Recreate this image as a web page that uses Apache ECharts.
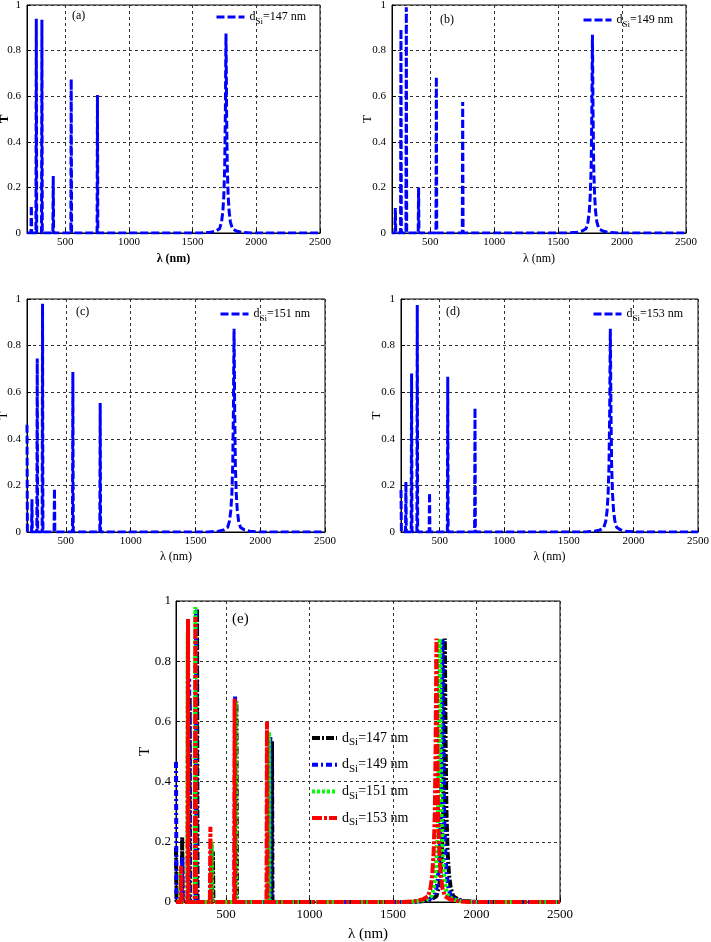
<!DOCTYPE html>
<html><head><meta charset="utf-8">
<script src="https://cdn.jsdelivr.net/npm/echarts@6/dist/echarts.min.js"></script>
<style>html,body{margin:0;padding:0;background:#fff}#c{width:711px;height:942px}</style>
</head><body><div id="c"></div>
<script>
// x tick labels (nm) and y range
const xTicks = [500, 1000, 1500, 2000, 2500];
const yTicks = [0, 0.2, 0.4, 0.6, 0.8, 1];

// Panel (a): d_Si = 147 nm  [lambda (nm), T]
const T_a147 = [[200,0],[231,0],[234,0.12],[237,0],[270,0],[273,0.94],[276,0],[314,0],[317,0.935],[320,0],
 [403,0],[406,0.25],[409,0],[544,0],[547,0.675],[550,0],[750,0],[753,0.605],[756,0],
 [1562,0],[1642,0.003],[1682,0.009],[1712,0.019],[1727,0.048],[1737,0.092],[1745,0.164],[1752,0.291],[1757,0.516],[1760,0.745],[1762,0.875],
 [1764,0.745],[1767,0.516],[1772,0.291],[1779,0.164],[1787,0.092],[1797,0.048],[1812,0.019],[1842,0.009],[1882,0.003],[1962,0],[2500,0]];
// Panel (b): d_Si = 149 nm
const T_b149 = [[200,0],[223,0],[226,0.11],[229,0],[267,0],[270,0.895],[273,0],[309,0],[312,0.99],[315,0],
 [405,0],[408,0.2],[411,0],[544,0],[547,0.685],[550,0],[750,0],[753,0.575],[756,0],
 [1568,0],[1648,0.003],[1688,0.009],[1718,0.019],[1733,0.048],[1743,0.092],[1751,0.164],[1758,0.29],[1763,0.513],[1766,0.74],[1768,0.87],
 [1770,0.74],[1773,0.513],[1778,0.29],[1785,0.164],[1793,0.092],[1803,0.048],[1818,0.019],[1848,0.009],[1888,0.003],[1968,0],[2500,0]];
// Panel (c): d_Si = 151 nm
const T_c151 = [[200,0.46],[203,0],[235,0],[238,0.14],[241,0],[276,0],[279,0.745],[282,0],[317,0],[320,0.98],[323,0],
 [409,0],[412,0.186],[415,0],[551,0],[554,0.687],[557,0],[762,0],[765,0.554],[768,0],
 [1598,0],[1678,0.003],[1718,0.009],[1748,0.019],[1763,0.048],[1773,0.092],[1781,0.164],[1788,0.29],[1793,0.514],[1796,0.742],[1798,0.872],
 [1800,0.742],[1803,0.514],[1808,0.29],[1815,0.164],[1823,0.092],[1833,0.048],[1848,0.019],[1878,0.009],[1918,0.003],[1998,0],[2500,0]];
// Panel (d): d_Si = 153 nm
const T_d153 = [[200,0.18],[203,0],[235,0],[238,0.215],[241,0],[279,0],[282,0.68],[285,0],[323,0],[326,0.974],[329,0],
 [418,0],[421,0.168],[424,0],[559,0],[562,0.666],[565,0],[770,0],[773,0.533],[776,0],
 [1621,0],[1701,0.003],[1741,0.009],[1771,0.019],[1786,0.048],[1796,0.092],[1804,0.164],[1811,0.29],[1816,0.514],[1819,0.742],[1821,0.872],
 [1823,0.742],[1826,0.514],[1831,0.29],[1838,0.164],[1846,0.092],[1856,0.048],[1871,0.019],[1901,0.009],[1941,0.003],[2021,0],[2500,0]];
// Panel (e): all four thicknesses
const T_e147 = [[200,0.18],[203,0],[234,0],[237,0.216],[240,0],[279,0],[282,0.68],[285,0],[323,0],[326,0.974],[329,0],
 [418,0],[421,0.168],[424,0],[559,0],[562,0.666],[565,0],[772,0],[775,0.534],[778,0],
 [1610,0],[1690,0.003],[1730,0.009],[1760,0.019],[1775,0.048],[1785,0.092],[1793,0.164],[1800,0.291],[1805,0.516],[1808,0.745],[1810,0.875],
 [1812,0.745],[1815,0.516],[1820,0.291],[1827,0.164],[1835,0.092],[1845,0.048],[1860,0.019],[1890,0.009],[1930,0.003],[2010,0],[2500,0]];
const T_e149 = [[200,0.465],[203,0],[235,0],[238,0.15],[241,0],[276,0],[279,0.742],[282,0],[317,0],[320,0.975],[323,0],
 [409,0],[412,0.19],[415,0],[551,0],[554,0.683],[557,0],[762,0],[765,0.55],[768,0],
 [1596,0],[1676,0.003],[1716,0.009],[1746,0.019],[1761,0.048],[1771,0.092],[1779,0.164],[1786,0.291],[1791,0.516],[1794,0.745],[1796,0.875],
 [1798,0.745],[1801,0.516],[1806,0.291],[1813,0.164],[1821,0.092],[1831,0.048],[1846,0.019],[1876,0.009],[1916,0.003],[1996,0],[2500,0]];
const T_e151 = [[200,0],[223,0],[226,0.11],[229,0],[267,0],[270,0.895],[273,0],[313,0],[316,0.98],[319,0],
 [411,0],[414,0.2],[417,0],[555,0],[558,0.665],[561,0],[754,0],[757,0.565],[760,0],
 [1580,0],[1660,0.003],[1700,0.009],[1730,0.019],[1745,0.048],[1755,0.092],[1763,0.164],[1770,0.291],[1775,0.516],[1778,0.745],[1780,0.875],
 [1782,0.745],[1785,0.516],[1790,0.291],[1797,0.164],[1805,0.092],[1815,0.048],[1830,0.019],[1860,0.009],[1900,0.003],[1980,0],[2500,0]];
const T_e153 = [[200,0],[228,0],[231,0.12],[234,0],[269,0],[272,0.94],[275,0],[313,0],[316,0.947],[319,0],
 [403,0],[406,0.25],[409,0],[548,0],[551,0.675],[554,0],[742,0],[745,0.6],[748,0],
 [1560,0],[1640,0.003],[1680,0.009],[1710,0.019],[1725,0.048],[1735,0.092],[1743,0.164],[1750,0.291],[1755,0.516],[1758,0.745],[1760,0.875],
 [1762,0.745],[1765,0.516],[1770,0.291],[1777,0.164],[1785,0.092],[1795,0.048],[1810,0.019],[1840,0.009],[1880,0.003],[1960,0],[2500,0]];

const FONT = 'Liberation Serif';
const grids = [
  {left:27, top:5, width:293, height:228},
  {left:392, top:5, width:294, height:228},
  {left:27, top:299, width:298, height:233},
  {left:401, top:299, width:297, height:233},
  {left:176, top:601, width:384, height:301}
];
function xAx(i, fs, nfs, bold, gap, margin) {
  return {type:'value', gridIndex:i, min:200, max:2500,
    name:'λ (nm)', nameLocation:'middle', nameGap:gap,
    nameTextStyle:{fontFamily:FONT, fontSize:nfs, fontWeight:bold?'bold':'normal', color:'#000'},
    axisLine:{show:true, lineStyle:{color:'#000', width:1}},
    axisTick:{show:true, inside:true, length:4, customValues:xTicks, lineStyle:{color:'#000'}},
    axisLabel:{customValues:xTicks, formatter:v => String(v), fontFamily:FONT, fontSize:fs, color:'#000', margin:margin},
    splitLine:{show:true, lineStyle:{color:'#333', type:[3,3], width:1}}};
}
function yAx(i, fs, nfs, bold, gap, margin) {
  return {type:'value', gridIndex:i, min:0, max:1, interval:0.2,
    name:'T', nameLocation:'middle', nameGap:gap, nameRotate:90, nameMoveOverlap:false,
    nameTextStyle:{fontFamily:FONT, fontSize:nfs, fontWeight:bold?'bold':'normal', color:'#000'},
    axisLine:{show:true, lineStyle:{color:'#000', width:1}},
    axisTick:{show:true, inside:true, length:4, lineStyle:{color:'#000'}},
    axisLabel:{formatter:v => String(v), fontFamily:FONT, fontSize:fs, color:'#000', margin:margin},
    splitLine:{show:true, lineStyle:{color:'#333', type:[3,3], width:1}}};
}
function ser(name, i, data, color, dash, w) {
  return {name:name, type:'line', xAxisIndex:i, yAxisIndex:i, data:data, symbol:'none', showSymbol:false,
    animation:false, lineStyle:{color:color, width:w, type:dash}, itemStyle:{color:color}};
}
const fmt = n => '{n|d}{s|Si}{n|=' + n.slice(1) + ' nm}';
function richSmall(fs) {
  return {fontFamily:FONT, fontSize:fs, color:'#000',
    rich:{n:{fontFamily:FONT, fontSize:fs, lineHeight:fs+6, verticalAlign:'middle', color:'#000'},
          s:{fontFamily:FONT, fontSize:Math.round(fs*0.75), lineHeight:Math.round(fs*0.75)+1, verticalAlign:'bottom', color:'#000'}}};
}
const hiddenSym = {color:'rgba(0,0,0,0)', opacity:0, borderWidth:0};
function leg(name, left, top, fs, w, iw) {
  return {data:[name], left:left, top:top, padding:0, itemWidth:iw, itemHeight:10, itemGap:6,
    formatter:fmt, textStyle:richSmall(fs), lineStyle:{width:w}, itemStyle:hiddenSym, selectedMode:false};
}
const blueDash = [8,3];
const option = {
  backgroundColor:'#fff',
  animation:false,
  grid: grids.map(g => Object.assign({show:true, borderColor:'#000', borderWidth:1, containLabel:false, outerBoundsMode:'none'}, g)),
  xAxis:[xAx(0,11,12,true,20,4), xAx(1,11,12,false,20,4), xAx(2,11,12,false,19,4), xAx(3,11,12,false,19,4), xAx(4,13,15,false,25,6)],
  yAxis:[yAx(0,11,13,true,16,6), yAx(1,11,13,false,18,6), yAx(2,11,13,false,17,6), yAx(3,11,13,false,18,6), yAx(4,13,15,false,23,5)],
  legend:[
    leg('a147', 215, 11, 12, 3, 28),
    leg('b149', 582, 14, 12, 3, 28),
    leg('c151', 219, 308, 12, 3, 28),
    leg('d153', 592, 308, 12, 3, 28),
    {data:['e147','e149','e151','e153'], orient:'vertical', left:310, top:731, padding:0, itemWidth:25, itemHeight:10, itemGap:9.7,
     formatter:fmt, textStyle:richSmall(14), lineStyle:{width:4}, itemStyle:hiddenSym, selectedMode:false}
  ],
  graphic:[
    {type:'text', left:72, top:10, style:{text:'(a)', font:'12px "Liberation Serif"', fill:'#000'}},
    {type:'text', left:440, top:14, style:{text:'(b)', font:'12px "Liberation Serif"', fill:'#000'}},
    {type:'text', left:76, top:306, style:{text:'(c)', font:'12px "Liberation Serif"', fill:'#000'}},
    {type:'text', left:446, top:306, style:{text:'(d)', font:'12px "Liberation Serif"', fill:'#000'}},
    {type:'text', left:232, top:612, style:{text:'(e)', font:'15px "Liberation Serif"', fill:'#000'}}
  ],
  series:[
    ser('a147',0,T_a147,'#0000ff',blueDash,3),
    ser('b149',1,T_b149,'#0000ff',blueDash,3),
    ser('c151',2,T_c151,'#0000ff',blueDash,3),
    ser('d153',3,T_d153,'#0000ff',blueDash,3),
    ser('e147',4,T_e147,'#000000',[8,2,2,2],4),
    ser('e149',4,T_e149,'#0000ff',[6,3,2,3],4),
    ser('e151',4,T_e151,'#00ff00',[3,2],4),
    ser('e153',4,T_e153,'#ff0000',[10,2,3,2],4)
  ]
};
const chart = echarts.init(document.getElementById('c'), null, {renderer:'canvas'});
chart.setOption(option);
</script></body></html>
